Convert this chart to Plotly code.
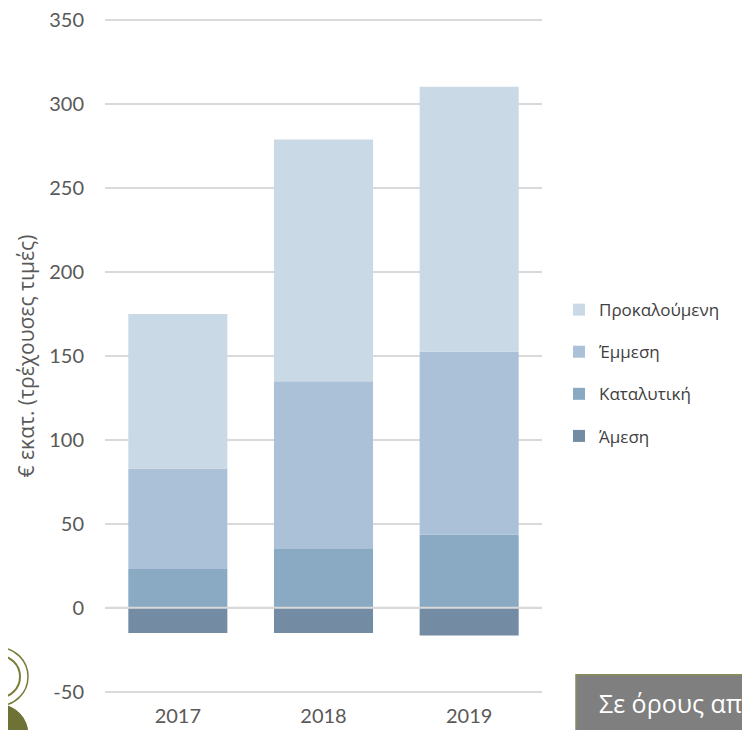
import plotly.graph_objects as go

years = ["2017", "2018", "2019"]
amesi = [-15, -15, -16.5]
katalytiki = [23, 35, 43.5]
emmesi = [60, 100, 109]
prokaloumeni = [92, 144, 158]
y_tickvals = [-50, 0, 50, 100, 150, 200, 250, 300, 350]
y_ticktext = ["-50", "0", "50", "100", "150", "200", "250", "300", "350"]

series = [
    ("Άμεση", amesi, "#738CA3", 4),
    ("Καταλυτική", katalytiki, "#8AA9C2", 3),
    ("Έμμεση", emmesi, "#ABC1D8", 2),
    ("Προκαλούμενη", prokaloumeni, "#C9D9E6", 1),
]

fig = go.Figure()
for name, vals, col, rank in series:
    fig.add_trace(go.Bar(x=years, y=vals, name=name, marker=dict(color=col, line=dict(width=0)),
                         legendgroup=name, legendrank=rank))

OFF = 8  # page body margin
W, H = 750 - OFF, 730 - OFF
YMIN, YMAX = -55, 355
PXU = 1.68  # screen px per unit
# screen-space plot box
SL, SR = 105, 542
ST = 20 - (YMAX - 350) * PXU
SB = 692 + (-50 - YMIN) * PXU
L, T = SL - OFF, ST - OFF
R, B = W - (SR - OFF), H - (SB - OFF)
pw, ph = SR - SL, SB - ST

def px(x):
    return (x - SL) / pw

def py(y):
    return (SB - y) / ph

fig.update_layout(
    width=W, height=H,
    margin=dict(l=L, r=R, t=T, b=B, autoexpand=False),
    barmode="relative",
    bargap=0.32,
    plot_bgcolor="white", paper_bgcolor="white",
    font=dict(family="Lato", color="#595959", size=20),
    showlegend=True,
    legend=dict(x=px(559), y=py(292), xanchor="left", yanchor="top",
                traceorder="grouped", tracegroupgap=17,
                font=dict(family="Open Sans", size=17, color="#404040"),
                itemwidth=30, bgcolor="rgba(0,0,0,0)"),
    xaxis=dict(showgrid=False, showline=False, ticks="", tickfont=dict(size=20),
               ticklabelstandoff=2, ticklabeloverflow="allow"),
    yaxis=dict(range=[YMIN, YMAX], tickmode="array", tickvals=y_tickvals, ticktext=y_ticktext,
               showgrid=True, gridcolor="#D9D9D9", gridwidth=1.5,
               zeroline=False, showline=False, ticks="", tickfont=dict(size=20),
               ticklabelstandoff=20, ticklabeloverflow="allow",
               title=dict(text="€ εκατ. (τρέχουσες τιμές)",
                          font=dict(family="Open Sans", size=21, color="#595959"), standoff=8)),
    shapes=[
        dict(type="line", xref="paper", yref="y", x0=0, x1=1, y0=0, y1=0,
             line=dict(color="#D9D9D9", width=2), layer="above"),
        # logo decoration
        dict(type="circle", xref="paper", yref="paper", x0=px(-30), x1=px(28), y0=py(706), y1=py(648),
             line=dict(color="#7A7D3A", width=1.5), fillcolor="rgba(0,0,0,0)"),
        dict(type="circle", xref="paper", yref="paper", x0=px(-22), x1=px(20), y0=py(698), y1=py(656),
             line=dict(color="#7A7D3A", width=2), fillcolor="rgba(0,0,0,0)"),
        dict(type="circle", xref="paper", yref="paper", x0=px(-30), x1=px(28), y0=py(765), y1=py(705),
             line=dict(color="#6E7335", width=1), fillcolor="#6E7335"),
        # grey box bottom right
        dict(type="rect", xref="paper", yref="paper", x0=px(576), x1=px(770), y0=py(740), y1=py(675),
             line=dict(color="#8C8C5A", width=1.5), fillcolor="#7F7F7F"),
    ],
    annotations=[
        dict(text="Σε όρους απ", xref="paper", yref="paper", x=px(597), y=py(703),
             xanchor="left", yanchor="middle", showarrow=False,
             font=dict(family="Open Sans", size=25, color="white")),
    ],
)

fig.write_html("out.html")
